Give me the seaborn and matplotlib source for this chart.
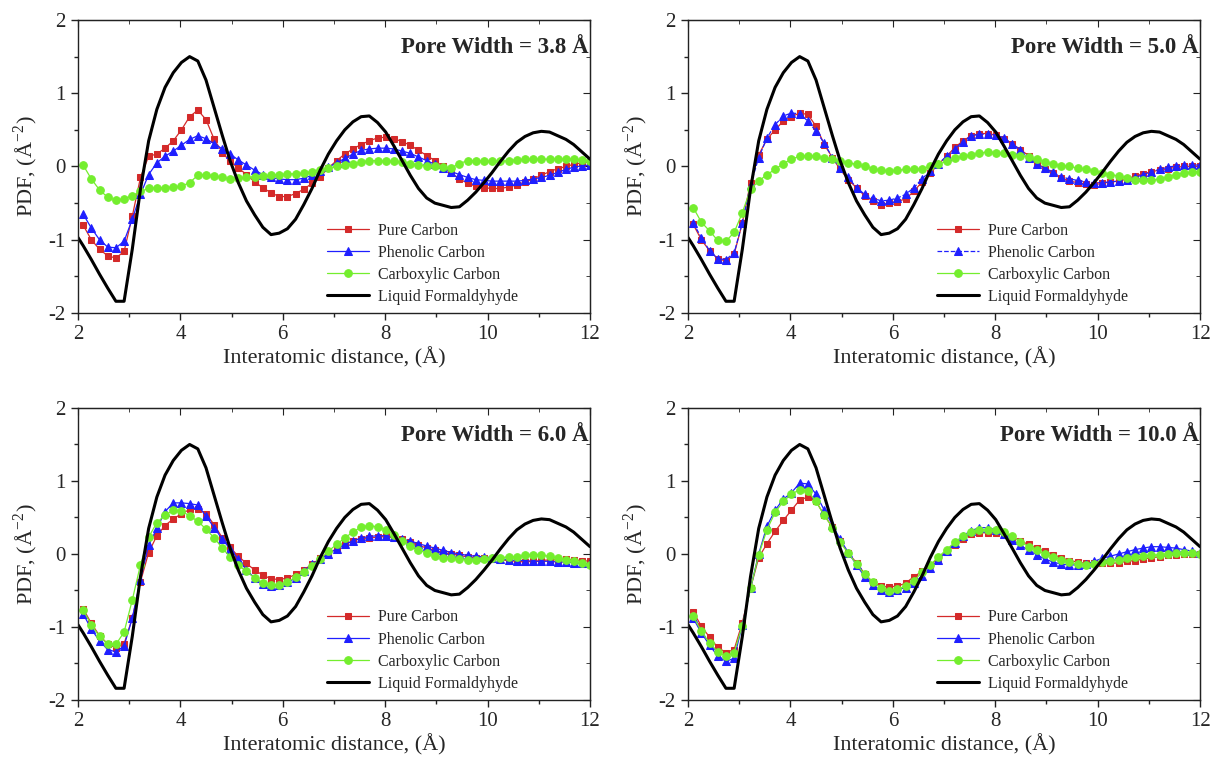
import matplotlib
matplotlib.use("Agg")
import matplotlib.pyplot as plt
import seaborn as sns
from matplotlib.ticker import MultipleLocator

sns.set_style("ticks")
plt.rcParams["font.family"] = ["Liberation Serif", "DejaVu Serif"]
plt.rcParams["mathtext.fontset"] = "stix"
plt.rcParams["axes.unicode_minus"] = False

# ---------------- data ----------------
R = [2.10, 2.26, 2.42, 2.58, 2.74, 2.90, 3.06, 3.22, 3.38, 3.54, 3.70, 3.86, 4.02, 4.18, 4.34, 4.50,
     4.66, 4.82, 4.97, 5.13, 5.29, 5.45, 5.61, 5.77, 5.93, 6.09, 6.25, 6.41, 6.57, 6.73, 6.89, 7.05,
     7.21, 7.37, 7.53, 7.69, 7.85, 8.01, 8.17, 8.33, 8.49, 8.65, 8.81, 8.97, 9.13, 9.29, 9.45, 9.61,
     9.77, 9.93, 10.09, 10.25, 10.41, 10.57, 10.73, 10.89, 11.05, 11.21, 11.37, 11.53, 11.68, 11.84, 12.00]

R_LIQUID = [2.00] + R
LIQUID = [-0.97, -1.08, -1.27, -1.47, -1.66, -1.84, -1.84, -1.13, -0.31, 0.35, 0.78, 1.08, 1.28, 1.42,
          1.50, 1.44, 1.18, 0.80, 0.42, 0.08, -0.22, -0.47, -0.66, -0.83, -0.93, -0.91, -0.85, -0.72,
          -0.52, -0.30, -0.05, 0.17, 0.35, 0.50, 0.61, 0.68, 0.69, 0.60, 0.47, 0.28, 0.08, -0.12, -0.30,
          -0.43, -0.50, -0.53, -0.56, -0.55, -0.46, -0.35, -0.22, -0.08, 0.07, 0.21, 0.33, 0.41, 0.46,
          0.48, 0.47, 0.42, 0.37, 0.30, 0.20, 0.10]

PORE_WIDTHS = ["3.8", "5.0", "6.0", "10.0"]

PURE_38 = [-0.80, -1.00, -1.13, -1.22, -1.25, -1.16, -0.68, -0.15, 0.14, 0.17, 0.25, 0.35, 0.50, 0.68,
           0.77, 0.64, 0.37, 0.19, 0.07, -0.02, -0.11, -0.21, -0.29, -0.36, -0.41, -0.41, -0.37, -0.31,
           -0.23, -0.14, -0.02, 0.08, 0.17, 0.24, 0.30, 0.35, 0.39, 0.40, 0.38, 0.34, 0.29, 0.22, 0.15,
           0.08, 0.00, -0.09, -0.17, -0.23, -0.27, -0.29, -0.30, -0.30, -0.28, -0.25, -0.21, -0.17,
           -0.12, -0.07, -0.03, 0.00, 0.03, 0.05, 0.06]
PHENOLIC_38 = [-0.65, -0.84, -1.00, -1.10, -1.11, -1.02, -0.72, -0.38, -0.11, 0.05, 0.14, 0.21, 0.29,
               0.37, 0.42, 0.38, 0.31, 0.24, 0.17, 0.09, 0.02, -0.05, -0.11, -0.15, -0.17, -0.18, -0.18,
               -0.16, -0.12, -0.06, -0.01, 0.05, 0.11, 0.17, 0.22, 0.24, 0.25, 0.25, 0.24, 0.21, 0.18,
               0.13, 0.08, 0.03, -0.02, -0.07, -0.11, -0.15, -0.18, -0.19, -0.20, -0.20, -0.20, -0.20,
               -0.19, -0.17, -0.15, -0.12, -0.08, -0.04, -0.01, 0.01, 0.02]
CARBOXYLIC_38 = [0.02, -0.17, -0.32, -0.42, -0.46, -0.44, -0.40, -0.34, -0.30, -0.29, -0.29, -0.28,
                 -0.27, -0.22, -0.12, -0.11, -0.13, -0.15, -0.17, -0.16, -0.15, -0.14, -0.13, -0.12,
                 -0.11, -0.10, -0.10, -0.09, -0.07, -0.05, -0.02, 0.00, 0.02, 0.04, 0.06, 0.08, 0.08,
                 0.07, 0.07, 0.06, 0.04, 0.02, 0.01, 0.00, -0.01, -0.02, 0.04, 0.08, 0.08, 0.07, 0.07,
                 0.07, 0.08, 0.09, 0.10, 0.10, 0.10, 0.10, 0.10, 0.10, 0.10, 0.09, 0.07]

PURE_50 = [-0.79, -1.00, -1.15, -1.26, -1.29, -1.20, -0.77, -0.22, 0.16, 0.37, 0.50, 0.62, 0.68, 0.73,
           0.71, 0.55, 0.30, 0.12, -0.04, -0.18, -0.29, -0.40, -0.47, -0.52, -0.50, -0.48, -0.44, -0.34,
           -0.21, -0.09, 0.03, 0.14, 0.26, 0.35, 0.42, 0.45, 0.45, 0.43, 0.38, 0.31, 0.23, 0.15, 0.05,
           -0.03, -0.09, -0.16, -0.20, -0.22, -0.24, -0.25, -0.23, -0.21, -0.20, -0.17, -0.13, -0.10,
           -0.07, -0.05, -0.03, -0.01, 0.00, 0.00, 0.00]
PHENOLIC_50 = [-0.77, -0.97, -1.15, -1.26, -1.27, -1.18, -0.77, -0.25, 0.12, 0.39, 0.57, 0.69, 0.73,
               0.72, 0.62, 0.48, 0.32, 0.12, -0.02, -0.15, -0.29, -0.38, -0.43, -0.47, -0.46, -0.43,
               -0.38, -0.29, -0.17, -0.06, 0.04, 0.14, 0.24, 0.34, 0.42, 0.44, 0.44, 0.43, 0.39, 0.31,
               0.23, 0.12, 0.04, -0.02, -0.08, -0.14, -0.17, -0.19, -0.21, -0.22, -0.22, -0.21, -0.20,
               -0.18, -0.15, -0.11, -0.07, -0.04, -0.01, 0.01, 0.02, 0.02, 0.02]
CARBOXYLIC_50 = [-0.56, -0.76, -0.88, -1.01, -1.02, -0.90, -0.63, -0.31, -0.20, -0.11, -0.04, 0.04,
                 0.10, 0.14, 0.15, 0.14, 0.12, 0.10, 0.07, 0.05, 0.03, 0.00, -0.03, -0.05, -0.06, -0.05,
                 -0.04, -0.04, -0.03, 0.00, 0.03, 0.07, 0.11, 0.14, 0.16, 0.18, 0.20, 0.19, 0.18, 0.16,
                 0.15, 0.13, 0.10, 0.06, 0.03, 0.01, 0.00, -0.02, -0.04, -0.06, -0.09, -0.11, -0.13,
                 -0.16, -0.18, -0.19, -0.19, -0.17, -0.14, -0.11, -0.09, -0.08, -0.07]

PURE_60 = [-0.75, -0.95, -1.12, -1.23, -1.29, -1.23, -0.88, -0.38, 0.02, 0.25, 0.39, 0.48, 0.55, 0.61,
           0.62, 0.55, 0.40, 0.22, 0.09, -0.03, -0.13, -0.22, -0.29, -0.34, -0.35, -0.33, -0.28, -0.22,
           -0.14, -0.06, 0.01, 0.07, 0.13, 0.18, 0.21, 0.22, 0.23, 0.24, 0.22, 0.20, 0.16, 0.12, 0.08,
           0.05, 0.02, 0.00, -0.02, -0.04, -0.05, -0.06, -0.07, -0.08, -0.09, -0.10, -0.11, -0.10,
           -0.09, -0.08, -0.08, -0.07, -0.08, -0.09, -0.10]
PHENOLIC_60 = [-0.82, -1.03, -1.19, -1.31, -1.34, -1.26, -0.88, -0.35, 0.12, 0.35, 0.58, 0.70, 0.70,
               0.69, 0.67, 0.52, 0.36, 0.20, 0.07, -0.07, -0.22, -0.33, -0.41, -0.44, -0.43, -0.39,
               -0.33, -0.24, -0.14, -0.07, 0.00, 0.07, 0.13, 0.18, 0.22, 0.24, 0.25, 0.25, 0.23, 0.20,
               0.18, 0.14, 0.11, 0.08, 0.05, 0.02, 0.00, -0.02, -0.03, -0.04, -0.05, -0.07, -0.08,
               -0.09, -0.09, -0.10, -0.10, -0.10, -0.11, -0.11, -0.12, -0.13, -0.13]
CARBOXYLIC_60 = [-0.77, -0.97, -1.13, -1.23, -1.24, -1.07, -0.63, -0.15, 0.23, 0.43, 0.53, 0.60, 0.59,
                 0.52, 0.45, 0.34, 0.22, 0.08, -0.04, -0.15, -0.24, -0.33, -0.40, -0.43, -0.42, -0.38,
                 -0.32, -0.25, -0.16, -0.07, 0.04, 0.13, 0.22, 0.30, 0.37, 0.39, 0.37, 0.33, 0.26, 0.18,
                 0.11, 0.06, 0.01, -0.03, -0.05, -0.06, -0.07, -0.08, -0.08, -0.07, -0.06, -0.05, -0.04,
                 -0.04, -0.02, -0.01, -0.02, -0.03, -0.06, -0.08, -0.10, -0.13, -0.15]

PURE_100 = [-0.79, -0.99, -1.14, -1.28, -1.35, -1.31, -0.94, -0.47, -0.05, 0.14, 0.31, 0.46, 0.60, 0.74,
            0.78, 0.72, 0.53, 0.37, 0.18, 0.01, -0.12, -0.27, -0.39, -0.44, -0.45, -0.44, -0.40, -0.31,
            -0.24, -0.15, -0.06, 0.03, 0.12, 0.21, 0.27, 0.29, 0.29, 0.29, 0.28, 0.23, 0.18, 0.13, 0.08,
            0.04, -0.01, -0.05, -0.09, -0.11, -0.13, -0.13, -0.13, -0.13, -0.12, -0.10, -0.09, -0.07,
            -0.05, -0.04, -0.02, -0.01, 0.00, 0.00, 0.00]
PHENOLIC_100 = [-0.88, -1.08, -1.25, -1.40, -1.47, -1.43, -0.97, -0.47, 0.00, 0.38, 0.60, 0.75, 0.84,
                0.97, 0.96, 0.82, 0.60, 0.40, 0.20, 0.02, -0.15, -0.31, -0.43, -0.50, -0.52, -0.49,
                -0.46, -0.40, -0.30, -0.19, -0.08, 0.04, 0.15, 0.25, 0.32, 0.36, 0.36, 0.33, 0.28, 0.19,
                0.12, 0.05, -0.01, -0.07, -0.11, -0.14, -0.15, -0.15, -0.14, -0.10, -0.06, -0.03, 0.00,
                0.03, 0.06, 0.08, 0.10, 0.10, 0.09, 0.08, 0.06, 0.04, 0.01]
CARBOXYLIC_100 = [-0.85, -1.06, -1.22, -1.34, -1.40, -1.35, -0.98, -0.47, -0.01, 0.33, 0.57, 0.72, 0.82,
                  0.88, 0.86, 0.72, 0.53, 0.36, 0.16, 0.01, -0.14, -0.28, -0.38, -0.46, -0.51, -0.48,
                  -0.44, -0.37, -0.25, -0.15, -0.04, 0.06, 0.16, 0.24, 0.30, 0.33, 0.33, 0.33, 0.30,
                  0.24, 0.17, 0.10, 0.05, 0.00, -0.04, -0.08, -0.11, -0.14, -0.15, -0.14, -0.11, -0.09,
                  -0.08, -0.06, -0.04, -0.03, -0.02, -0.01, 0.00, 0.01, 0.01, 0.01, 0.00]

PURE = [PURE_38, PURE_50, PURE_60, PURE_100]
PHENOLIC = [PHENOLIC_38, PHENOLIC_50, PHENOLIC_60, PHENOLIC_100]
CARBOXYLIC = [CARBOXYLIC_38, CARBOXYLIC_50, CARBOXYLIC_60, CARBOXYLIC_100]
PHENOLIC_STYLE = ["-", "--", "-", "-"]

X_TICKS = [2, 4, 6, 8, 10, 12]
Y_TICKS = [-2, -1, 0, 1, 2]
LABELS = ["Pure Carbon", "Phenolic Carbon", "Carboxylic Carbon", "Liquid Formaldyhyde"]

# ---------------- styling ----------------
RED = "#d42a2a"
BLUE = "#1f1fff"
GREEN = "#74ee2e"

fig = plt.figure(figsize=(12.15, 7.78), dpi=100)
positions = [
    [0.0642, 0.5977, 0.4214, 0.3766],
    [0.5663, 0.5977, 0.4214, 0.3766],
    [0.0642, 0.1003, 0.4214, 0.3753],
    [0.5663, 0.1003, 0.4214, 0.3753],
]

for i, pos in enumerate(positions):
    ax = fig.add_axes(pos)
    sns.lineplot(x=R, y=PURE[i], ax=ax, color=RED, marker="s", markersize=5, lw=0.9,
                 markeredgecolor=RED, sort=False, estimator=None, label=LABELS[0])
    sns.lineplot(x=R, y=PHENOLIC[i], ax=ax, color=BLUE, marker="^", markersize=6, lw=0.9,
                 linestyle=PHENOLIC_STYLE[i], markeredgecolor=BLUE, sort=False, estimator=None,
                 label=LABELS[1])
    sns.lineplot(x=R, y=CARBOXYLIC[i], ax=ax, color=GREEN, marker="o", markersize=5.5, lw=0.9,
                 markeredgecolor=GREEN, sort=False, estimator=None, label=LABELS[2])
    sns.lineplot(x=R_LIQUID, y=LIQUID, ax=ax, color="black", lw=2.2, sort=False, estimator=None,
                 label=LABELS[3])

    ax.set_xlim(2, 12)
    ax.set_ylim(-2, 2)
    ax.set_xticks(X_TICKS)
    ax.set_yticks(Y_TICKS)
    ax.xaxis.set_minor_locator(MultipleLocator(1))
    ax.yaxis.set_minor_locator(MultipleLocator(0.5))
    ax.tick_params(which="both", direction="out", labelsize=15, width=1, color="#222222")
    ax.tick_params(which="major", length=5, pad=4)
    ax.tick_params(which="minor", length=3)
    for s in ax.spines.values():
        s.set_linewidth(1.0)
        s.set_color("#222222")

    secx = ax.secondary_xaxis("top")
    secx.set_xticks(X_TICKS)
    secx.xaxis.set_minor_locator(MultipleLocator(1))
    secx.tick_params(which="both", direction="in", labeltop=False, color="#222222")
    secx.tick_params(which="major", length=5)
    secx.tick_params(which="minor", length=3)
    secy = ax.secondary_yaxis("right")
    secy.set_yticks(Y_TICKS)
    secy.yaxis.set_minor_locator(MultipleLocator(0.5))
    secy.tick_params(which="both", direction="in", labelright=False, color="#222222")
    secy.tick_params(which="major", length=5)
    secy.tick_params(which="minor", length=3)

    ax.set_xlabel("Interatomic distance, (Å)", fontsize=16, labelpad=2)
    ax.set_ylabel(r"PDF, (Å$^{\mathregular{-2}}$)", fontsize=16, labelpad=6)

    ax.text(0.997, 0.905, f"Pore Width = {PORE_WIDTHS[i]} Å", transform=ax.transAxes,
            ha="right", va="center", fontsize=16.5, fontweight="bold")

    ax.legend(loc="lower left", bbox_to_anchor=(0.465, -0.01), frameon=False, fontsize=11.5,
              handlelength=2.6, handletextpad=0.6, labelspacing=0.38, borderaxespad=0.3)

fig.savefig("out.png", dpi=100)
